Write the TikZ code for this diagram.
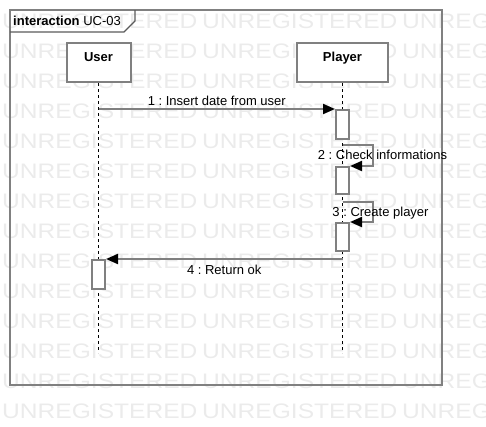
\documentclass[tikz,border=0pt]{standalone}
\usepackage{fontspec}
\setmainfont{Liberation Sans}
\usepackage{graphicx}
\usetikzlibrary{arrows.meta,positioning,calc}
\definecolor{umlgray}{HTML}{808080}
\definecolor{wmgray}{HTML}{EBEBEB}
\newcommand{\wmtext}{\scalebox{1.17}[1]{UNREGISTERED}}
\frenchspacing
\tikzset{
  >={Triangle[length=12pt,width=10pt,color=black]},
  % ramar
  frm/.style={draw=umlgray,line width=2pt},
  tab/.style={draw=umlgray!70!black,line width=1.2pt},
  ttl/.style={font=\fontsize{13}{15}\selectfont,inner sep=0pt,anchor=base west},
  wm/.style={font=\fontsize{21}{24}\selectfont,text=wmgray,inner sep=0pt,
             anchor=base west},
  % livslinjer
  obj/.style={draw=umlgray,fill=white,line width=2pt,inner sep=0pt,
              text height=18pt,text depth=21pt,anchor=north,
              font=\fontsize{13}{15}\selectfont\bfseries},
  life/.style={draw=black,line width=1pt,dash pattern=on 3pt off 3pt},
  act/.style={draw=umlgray,fill=white,line width=2pt,inner sep=0pt,
              minimum width=13pt,anchor=north},
  % meddelanden
  msg/.style={->,draw=umlgray,line width=2pt},
  lbl/.style={font=\fontsize{13}{15}\selectfont,inner sep=0pt,anchor=base},
}
\begin{document}
\begin{tikzpicture}[x=1pt,y=-1pt]
\useasboundingbox (0,0) rectangle (486,426);
\begin{scope}
  \clip (0,0) rectangle (486,426);
  \foreach \r in {0,...,13}
    \foreach \c in {0,1,2}
      \node[wm] (wm-\r-\c) at (2+200*\c,28+30*\r) {\wmtext};
\end{scope}
  \draw[frm] (10,10) rectangle (442,385);
  \draw[tab] (10,32) -- (124,32) -- (135,21) -- (135,10);
  \node[ttl] (title) at (13,25) {\textbf{interaction} UC-03};
  \node[obj,minimum width=64pt] (user) at (98.5,42) {User};
  \node[obj,minimum width=91pt] (player) at (342.5,42) {Player};
  \coordinate (userend) at (98.5,353);
  \coordinate (playerend) at (342.5,353);
  \draw[life] (user.south) -- (userend);
  \draw[life] (player.south) -- (playerend);
  \node[act,minimum height=29pt] (a1) at (342.5,109) {};
  \node[act,minimum height=27pt] (a2) at (342.5,166) {};
  \node[act,minimum height=28pt] (a3) at (342.5,222) {};
  \node[act,minimum height=29pt] (a4) at (98.5,259) {};
  \coordinate (m1) at (98.5,109);
  \coordinate (m2) at (342.5,145);
  \coordinate (m3) at (342.5,202);
  \coordinate (m4) at (342.5,259);
  \draw[msg] (m1) -- node[lbl,yshift=3.5pt] {1 : Insert date from user} (a1.north west);
  \draw[msg] (m2) -- ++(30.5,0) |- (a2.north east);
  \node[lbl] (l2) at (382.5,159.5) {2 : Check informations};
  \draw[msg] (m3) -- ++(30.5,0) |- (a3.north east);
  \node[lbl] (l3) at (380.5,216) {3 : Create player};
  \draw[msg] (m4) -- node[lbl,yshift=-15.3pt] {4 : Return ok} (a4.north east);
\end{tikzpicture}
\end{document}
